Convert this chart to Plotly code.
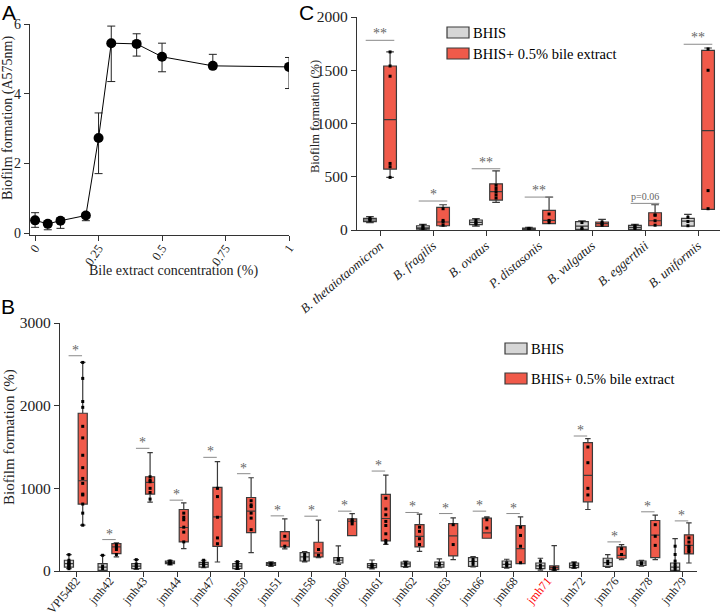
import plotly.graph_objects as go
import numpy as np

# =============================================================================
# Data
# =============================================================================
# Panel A - dose response
conc = [0, 0.05, 0.1, 0.2, 0.25, 0.3, 0.4, 0.5, 0.7, 1]
a575 = [0.37, 0.27, 0.36, 0.51, 2.73, 5.45, 5.43, 5.06, 4.80, 4.77]
a575_err_up = [0.22, 0.08, 0.08, 0.08, 0.72, 0.49, 0.29, 0.39, 0.33, 0.27]
a575_err_dn = [0.20, 0.17, 0.22, 0.15, 1.02, 1.10, 0.35, 0.43, 0.06, 0.62]

# Panel C - species
species = ["B. thetaiotaomicron", "B. fragilis", "B. ovatus", "P. distasonis",
           "B. vulgatus", "B. eggerthii", "B. uniformis"]
c_bhis_q1 = [78, 8, 50, 3, 6, 6, 37]
c_bhis_med = [94, 20, 72, 10, 37, 25, 84]
c_bhis_q3 = [109, 40, 94, 19, 78, 44, 109]
c_bhis_lo = [70, 0, 37, 0, 0, 0, 37]
c_bhis_hi = [125, 53, 106, 25, 87, 53, 147]
c_bile_q1 = [572, 40, 281, 59, 34, 40, 194]
c_bile_med = [1037, 75, 360, 90, 59, 87, 934]
c_bile_q3 = [1540, 212, 434, 184, 75, 162, 1687]
c_bile_lo = [494, 37, 259, 59, 34, 40, 194]
c_bile_hi = [1672, 237, 556, 309, 100, 237, 1709]
c_bhis_pts = [[110, 100, 90], [40, 20, 10], [90, 70, 55], [15, 10, 5],
              [70, 20, 5], [40, 25, 10], [120, 80, 40]]
c_bile_pts = [[1672, 1540, 1444, 625, 594, 494], [200, 90, 75, 45],
              [420, 390, 360, 330, 300], [150, 90, 70], [75, 60, 45],
              [140, 140, 87, 45], [1700, 1500, 370, 200]]
c_sig_text = ["**", "*", "**", "**", None, "p=0.06", "**"]
c_sig_y = [1781, 272, 575, 309, None, 250, 1744]

# Panel B - strains
strains = ["VPI5482", "jmh42", "jmh43", "jmh44", "jmh47", "jmh50", "jmh51",
           "jmh58", "jmh60", "jmh61", "jmh62", "jmh63", "jmh66", "jmh68",
           "jmh71", "jmh72", "jmh76", "jmh78", "jmh79"]
b_bhis_q1 = [48, 8, 28, 89, 48, 28, 69, 121, 97, 40, 53, 48, 57, 44, 28, 40, 57, 69, 8]
b_bhis_med = [90, 48, 60, 105, 80, 60, 85, 170, 130, 65, 85, 77, 115, 81, 61, 69, 101, 97, 48]
b_bhis_q3 = [130, 89, 89, 121, 105, 89, 101, 222, 162, 89, 109, 109, 162, 121, 97, 97, 154, 121, 97]
b_bhis_lo = [28, 0, 20, 75, 40, 20, 55, 110, 81, 25, 45, 40, 50, 35, 10, 30, 45, 60, 0]
b_bhis_hi = [198, 190, 137, 130, 130, 113, 110, 235, 303, 133, 120, 146, 175, 142, 154, 110, 198, 130, 392]
b_bile_q1 = [809, 210, 930, 352, 299, 465, 291, 170, 429, 364, 291, 182, 396, 89, 16, 837, 154, 162, 206]
b_bile_med = [1092, 291, 1071, 526, 655, 724, 364, 218, 602, 635, 420, 425, 461, 271, 40, 1156, 190, 433, 311]
b_bile_q3 = [1908, 331, 1140, 744, 1011, 889, 477, 348, 631, 926, 562, 574, 639, 550, 61, 1553, 291, 611, 437]
b_bile_lo = [554, 170, 833, 271, 109, 222, 267, 162, 429, 323, 238, 137, 396, 89, 5, 744, 137, 137, 97]
b_bile_hi = [2523, 340, 1431, 825, 1322, 1128, 631, 615, 695, 1160, 687, 643, 655, 655, 307, 1601, 319, 675, 582]
b_bhis_pts = [[198, 130, 110, 95, 85, 70, 60, 48, 28], [190, 60, 30], [137, 85, 60, 40],
              [121, 110, 100, 95, 89], [130, 100, 80, 60], [113, 90, 70, 50, 30],
              [90, 80], [200, 170, 140], [150, 130], [80, 65, 50], [100, 85, 70],
              [90, 70], [140, 110, 80], [100, 80, 60], [120, 70, 40], [90, 70, 50],
              [120, 90], [100, 90], [300, 200, 120, 80, 50, 20]]
b_bile_pts = [[2523, 2330, 2050, 1980, 1750, 1610, 1400, 1250, 1120, 1060, 930, 920, 810, 700, 554],
              [320, 290, 260, 200], [1140, 1100, 1080, 1000, 950, 870],
              [700, 650, 620, 530, 470, 352], [1000, 900, 650, 400, 330],
              [850, 800, 780, 700, 640, 500], [420, 300], [260, 190], [620, 600, 570],
              [880, 750, 680, 600, 550, 450, 370, 340], [530, 480, 390, 320], [560, 320],
              [620, 520], [530, 430, 300, 100], [40, 30, 20], [1500, 1310, 1000, 920],
              [270, 200], [560, 420, 310], [400, 350, 300, 280, 250, 230]]
b_sig_y = [2604, 380, 1484, 857, 1375, 1177, 667, 663, 724, 1209, 708, 695, 724, 695,
           None, 1633, 352, 716, 606]

# =============================================================================
# Styles / helpers
# =============================================================================
W, H = 720, 615
SERIF = "Liberation Serif"
GREY = "#d6d6d6"
RED = "#f05a4a"
EDGE = "#3a3a3a"
AX = "#333333"


def px(x):
    return x / W


def py(y):
    return 1 - y / H


def add_boxes(fig, pos, q1, med, q3, lo, hi, color, width, xa, ya):
    fig.add_trace(go.Box(x=list(pos), q1=q1, median=med, q3=q3, lowerfence=lo,
                         upperfence=hi, orientation="v", width=width, fillcolor=color,
                         line=dict(color=EDGE, width=1.2), whiskerwidth=0.6,
                         boxpoints=False, hoverinfo="skip", xaxis=xa, yaxis=ya,
                         showlegend=False))


def add_points(fig, pos, pts, xa, ya):
    xs, ys = [], []
    for p, vals in zip(pos, pts):
        xs += [p] * len(vals)
        ys += vals
    fig.add_trace(go.Scatter(x=xs, y=ys, mode="markers", xaxis=xa, yaxis=ya,
                             marker=dict(symbol="square", size=3, color="black"),
                             showlegend=False, hoverinfo="skip"))


fig = go.Figure()

# ---- Panel A
fig.add_trace(go.Scatter(x=conc, y=a575, mode="lines+markers",
                         line=dict(color="black", width=1),
                         marker=dict(size=10, color="black"),
                         error_y=dict(type="data", symmetric=False, array=a575_err_up,
                                      arrayminus=a575_err_dn, color="#222",
                                      thickness=1, width=4),
                         showlegend=False, xaxis="x", yaxis="y"))

# ---- Panel C
n_c = len(species)
c_idx = np.arange(n_c)
add_boxes(fig, c_idx - 0.19, c_bhis_q1, c_bhis_med, c_bhis_q3, c_bhis_lo, c_bhis_hi,
          GREY, 0.24, "x2", "y2")
add_boxes(fig, c_idx + 0.19, c_bile_q1, c_bile_med, c_bile_q3, c_bile_lo, c_bile_hi,
          RED, 0.24, "x2", "y2")
add_points(fig, c_idx - 0.19, c_bhis_pts, "x2", "y2")
add_points(fig, c_idx + 0.19, c_bile_pts, "x2", "y2")

# ---- Panel B
n_b = len(strains)
b_idx = np.arange(n_b)
add_boxes(fig, b_idx - 0.21, b_bhis_q1, b_bhis_med, b_bhis_q3, b_bhis_lo, b_bhis_hi,
          GREY, 0.27, "x3", "y3")
add_boxes(fig, b_idx + 0.2, b_bile_q1, b_bile_med, b_bile_q3, b_bile_lo, b_bile_hi,
          RED, 0.27, "x3", "y3")
add_points(fig, b_idx - 0.21, b_bhis_pts, "x3", "y3")
add_points(fig, b_idx + 0.2, b_bile_pts, "x3", "y3")

shapes = []
annotations = []

# significance marks
for i, (t, y) in enumerate(zip(c_sig_text, c_sig_y)):
    if t is None:
        continue
    shapes.append(dict(type="line", xref="x2", yref="y2", x0=i - 0.27, x1=i + 0.27,
                       y0=y, y1=y, line=dict(color="#8a8a8a", width=1)))
    annotations.append(dict(xref="x2", yref="y2", x=i, y=y, text=t, showarrow=False,
                            yanchor="bottom", yshift=-3 if t.startswith("*") else -1,
                            font=dict(family=SERIF, size=14 if t.startswith("*") else 10,
                                      color="#666")))
for i, y in enumerate(b_sig_y):
    if y is None:
        continue
    shapes.append(dict(type="line", xref="x3", yref="y3", x0=i - 0.22, x1=i + 0.18,
                       y0=y, y1=y, line=dict(color="#8a8a8a", width=1)))
    annotations.append(dict(xref="x3", yref="y3", x=i - 0.02, y=y, text="*",
                            showarrow=False, yanchor="bottom", yshift=-4,
                            font=dict(family=SERIF, size=14, color="#666")))

# legends drawn by hand (rectangles + text)
for x0, ytop, gap in [(447, 27, 21), (505, 343, 30)]:
    for k, (col, txt) in enumerate([(GREY, "BHIS"), (RED, "BHIS+ 0.5% bile extract")]):
        y0 = ytop + k * gap
        shapes.append(dict(type="rect", xref="paper", yref="paper",
                           x0=px(x0), x1=px(x0 + 22), y0=py(y0 + 11), y1=py(y0),
                           fillcolor=col, line=dict(color=EDGE, width=1.2)))
        annotations.append(dict(xref="paper", yref="paper", x=px(x0 + 24), y=py(y0 + 5.5),
                                text=txt, showarrow=False, xanchor="left", yanchor="middle",
                                font=dict(family=SERIF, size=14.5, color="black")))

# axis titles and panel letters
titles = [
    (8, 118, "Biofilm formation (A575nm)", 14, -90),
    (173, 271, "Bile extract concentration (%)", 14, 0),
    (315, 117, "Biofilm formation (%)", 12.5, -90),
    (9, 437, "Biofilm formation (%)", 15, -90),
]
for x, y, t, s, ang in titles:
    annotations.append(dict(xref="paper", yref="paper", x=px(x), y=py(y), text=t,
                            showarrow=False, textangle=ang, xanchor="center",
                            yanchor="middle", font=dict(family=SERIF, size=s, color="#222")))
for x, y, t in [(9, 12, "A"), (8, 306, "B"), (306, 13, "C")]:
    annotations.append(dict(xref="paper", yref="paper", x=px(x), y=py(y), text=t,
                            showarrow=False, xanchor="center", yanchor="middle",
                            font=dict(family="Liberation Sans", size=21, color="black")))

axis_common = dict(showgrid=False, zeroline=False, showline=True, linecolor=AX,
                   linewidth=1.3, ticks="outside", ticklen=5, tickcolor=AX, tickwidth=1.3,
                   automargin=False)

c_ticktext = ["<i>%s</i>" % s for s in species]
b_ticktext = ["<span style='color:red'>%s</span>" % s if s == "jmh71" else s
              for s in strains]

fig.update_layout(
    width=W, height=H, margin=dict(l=0, r=0, t=0, b=0, autoexpand=False),
    paper_bgcolor="white", plot_bgcolor="white",
    font=dict(family=SERIF, color="#222"),
    showlegend=False,
    xaxis=dict(axis_common, domain=[px(30), px(289)], range=[-0.02, 1.0],
               tickvals=[0, 0.25, 0.5, 0.75, 1], ticktext=["0", "0.25", "0.5", "0.75", "1"],
               tickangle=-55, tickfont=dict(family=SERIF, size=12.5), anchor="y",
               ticklabelstandoff=-5),
    yaxis=dict(axis_common, domain=[py(235), py(24)], range=[-0.05, 6],
               tickvals=[0, 2, 4, 6], tickfont=dict(family=SERIF, size=14), anchor="x"),
    xaxis2=dict(axis_common, domain=[px(357), px(720)], range=[-0.434, 6.415],
                tickvals=list(c_idx), ticktext=c_ticktext, tickangle=-40,
                tickfont=dict(family=SERIF, size=13), anchor="y2", ticklabelstandoff=-3),
    yaxis2=dict(axis_common, domain=[py(230), py(17)], range=[0, 2000],
                tickvals=[0, 500, 1000, 1500, 2000], tickfont=dict(family=SERIF, size=15.5),
                anchor="x2"),
    xaxis3=dict(axis_common, domain=[px(60), px(697)], range=[-0.475, 18.44],
                tickvals=list(b_idx), ticktext=b_ticktext, tickangle=-50,
                tickfont=dict(family=SERIF, size=12), anchor="y3", ticklabelstandoff=-8),
    yaxis3=dict(axis_common, domain=[py(571), py(323)], range=[0, 3000],
                tickvals=[0, 1000, 2000, 3000], tickfont=dict(family=SERIF, size=15.5),
                anchor="x3"),
    shapes=shapes,
    annotations=annotations,
)

# page body has a default 8px margin; drop it so the figure sits at the window origin
fig.write_html("out.html", config={"displayModeBar": False},
               post_script="document.body.style.margin='0';")
